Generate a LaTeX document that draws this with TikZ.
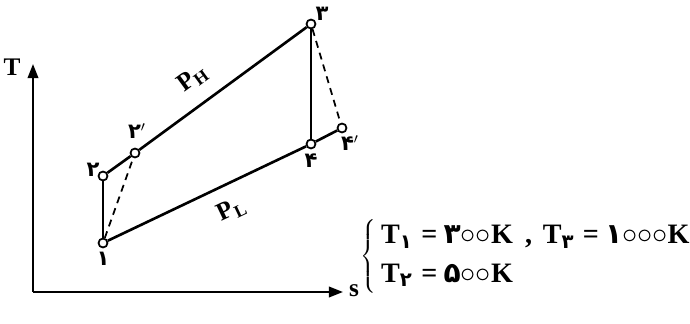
\documentclass[tikz,border=0pt]{standalone}
\usepackage{fontspec}
\setmainfont{Liberation Serif}
\newfontfamily\fadigits[Script=Arabic]{DejaVu Sans}
\usetikzlibrary{arrows.meta}
\newcommand{\fa}[1]{{\fadigits\bfseries #1}}
\newcommand{\zr}{\ensuremath{{\circ}}}
\newcommand{\eqs}{\hspace{0.3em}=\hspace{0.22em}}

\begin{document}
\begin{tikzpicture}[x=0.02cm, y=-0.02cm,
  state/.style={circle, draw, fill=white, line width=1pt, inner sep=0pt,
    minimum size=0.18cm},
  proc/.style={line width=1.5pt},
  irr/.style={line width=1pt, dash pattern=on 4pt off 3pt},
  axis/.style={line width=1.1pt, -{Triangle[length=8pt, width=6pt]}},
  lbl/.style={font=\bfseries\large, inner sep=1pt},
]
\useasboundingbox (0,0) rectangle (690,324);

% Axes
\coordinate (orig) at (33,292);
\coordinate (taxis) at (33,64);
\coordinate (saxis) at (343,292);
\draw[axis] (orig) -- (taxis);
\draw[axis] (orig) -- (saxis);
\node[font=\bfseries\Large] (tlab) at (12,67) {T};
\node[font=\bfseries\Large] (slab) at (354,291) {s};

% States
\node[state] (p1)  at (103,243) {};
\node[state] (p2)  at (103,176) {};
\node[state] (p2p) at (135,153) {};
\node[state] (p3)  at (311,24) {};
\node[state] (p4)  at (311,144) {};
\node[state] (p4p) at (342,128) {};

% Processes
\draw[proc] (p1) -- (p2);
\draw[proc] (p2) -- (p2p);
\draw[proc] (p2p) -- (p3)
  node[pos=0.41, sloped, above=8pt, inner sep=0pt, font=\bfseries\Large] (ph) {P\textsubscript{H}};
\draw[proc] (p3) -- (p4);
\draw[proc] (p4) -- (p4p);
\draw[proc] (p1) -- (p4)
  node[pos=0.57, sloped, below=8pt, inner sep=0pt, font=\bfseries\Large] (pl) {P\textsubscript{L}};
\draw[irr] (p1) -- (p2p);
\draw[irr] (p3) -- (p4p);

% State labels
\node[lbl] (l1)  at (103,259) {\fa{۱}};
\node[lbl] (l2)  at (93,170) {\fa{۲}};
\node[lbl] (l2p) at (137,131) {\fa{۲}$'$};
\node[lbl] (l3)  at (322,14) {\fa{۳}};
\node[lbl] (l4)  at (311,161) {\fa{۴}};
\node[lbl] (l4p) at (350,143) {\fa{۴}$'$};

% Given data
\node[anchor=west, inner sep=0pt, font=\bfseries\fontsize{16}{20}\selectfont] (data) at (360,256)
  {$\left\{\begin{tabular}{@{\hspace{3pt}}l@{}}
  T\textsubscript{\fa{۱}}\eqs\fa{۳}\zr\zr K\hspace{7pt}, \hspace{2pt}T\textsubscript{\fa{۳}}\eqs\fa{۱}\zr\zr\zr K\\[2pt]
  T\textsubscript{\fa{۲}}\eqs\fa{۵}\zr\zr K
  \end{tabular}\right.$};
\end{tikzpicture}
\end{document}
